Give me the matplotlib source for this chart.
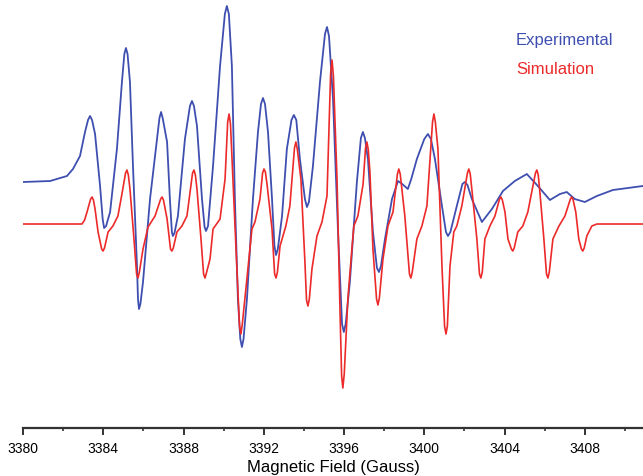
import matplotlib
matplotlib.use("Agg")
import matplotlib.pyplot as plt
from matplotlib.ticker import MultipleLocator

plt.rcParams['font.family'] = ['Liberation Sans', 'DejaVu Sans']

# field values (Gauss) and signal (a.u.)
exp_field = [3380.00, 3381.35, 3382.19, 3382.49, 3382.84, 3383.09, 3383.24, 3383.34,
             3383.44, 3383.59, 3383.84, 3383.97, 3384.04, 3384.14, 3384.34, 3384.68,
             3384.93, 3385.05, 3385.13, 3385.21, 3385.33, 3385.48, 3385.68, 3385.73,
             3385.78, 3385.85, 3385.98, 3386.33, 3386.68, 3386.80, 3386.88, 3386.96,
             3387.18, 3387.32, 3387.42, 3387.47, 3387.55, 3387.72, 3388.07, 3388.32,
             3388.42, 3388.52, 3388.67, 3388.92, 3389.05, 3389.12, 3389.22, 3389.47,
             3389.82, 3390.06, 3390.16, 3390.26, 3390.41, 3390.56, 3390.71, 3390.83,
             3390.91, 3390.99, 3391.16, 3391.46, 3391.71, 3391.86, 3391.96, 3392.06,
             3392.21, 3392.41, 3392.53, 3392.61, 3392.70, 3392.91, 3393.15, 3393.38,
             3393.50, 3393.62, 3393.80, 3394.05, 3394.15, 3394.25, 3394.45, 3394.80,
             3395.05, 3395.15, 3395.25, 3395.45, 3395.70, 3395.90, 3395.99, 3396.08,
             3396.29, 3396.64, 3396.84, 3396.94, 3397.04, 3397.19, 3397.44, 3397.64,
             3397.74, 3397.84, 3398.04, 3398.39, 3398.69, 3398.90, 3399.18, 3399.35,
             3399.63, 3400.00, 3400.18, 3400.33, 3400.53, 3400.88, 3401.08, 3401.18,
             3401.30, 3401.62, 3401.90, 3402.02, 3402.15, 3402.37, 3402.87, 3403.37,
             3403.92, 3404.51, 3405.11, 3405.66, 3406.26, 3406.76, 3407.10, 3407.50,
             3408.00, 3408.60, 3409.40, 3410.89]
exp_signal = [42, 43, 48, 55, 68, 92, 104, 108,
              104, 90, 38, 5, -4, -2, 12, 75,
              142, 170, 176, 170, 142, 58, -42, -75,
              -85, -80, -58, 25, 85, 106, 112, 106,
              82, 25, -8, -12, -9, 8, 85, 118,
              123, 118, 98, 25, -3, -7, -2, 58,
              158, 210, 218, 210, 158, 25, -75, -115,
              -123, -115, -75, 25, 92, 120, 126, 120,
              92, 25, -22, -31, -25, 8, 75, 104,
              109, 104, 65, 25, 17, 22, 58, 142,
              190, 197, 188, 125, -8, -100, -108, -100,
              -58, 42, 86, 92, 86, 65, -8, -44,
              -48, -42, -15, 25, 43, 40, 35, 45,
              65, 85, 90, 85, 65, 18, -8, -12,
              -8, 18, 40, 42, 39, 25, 2, 15,
              33, 43, 50, 38, 24, 30, 32, 25,
              22, 28, 34, 38]

sim_field = [3380.00, 3382.94, 3383.07, 3383.19, 3383.37, 3383.44, 3383.51, 3383.59,
             3383.74, 3383.92, 3383.99, 3384.06, 3384.24, 3384.48, 3384.73, 3384.93,
             3385.11, 3385.18, 3385.25, 3385.33, 3385.53, 3385.66, 3385.73, 3385.80,
             3385.98, 3386.23, 3386.58, 3386.86, 3386.93, 3387.00, 3387.18, 3387.35,
             3387.42, 3387.49, 3387.67, 3387.92, 3388.17, 3388.45, 3388.52, 3388.59,
             3388.67, 3388.87, 3389.00, 3389.07, 3389.14, 3389.32, 3389.47, 3389.82,
             3390.07, 3390.20, 3390.27, 3390.34, 3390.46, 3390.66, 3390.79, 3390.86,
             3390.93, 3391.16, 3391.41, 3391.56, 3391.81, 3391.94, 3392.01, 3392.08,
             3392.16, 3392.41, 3392.54, 3392.61, 3392.68, 3392.81, 3393.10, 3393.30,
             3393.53, 3393.60, 3393.67, 3393.85, 3394.05, 3394.13, 3394.20, 3394.27,
             3394.40, 3394.65, 3394.90, 3395.15, 3395.33, 3395.40, 3395.47, 3395.65,
             3395.80, 3395.88, 3395.94, 3396.01, 3396.19, 3396.39, 3396.49, 3396.69,
             3396.95, 3397.07, 3397.14, 3397.21, 3397.29, 3397.44, 3397.62, 3397.69,
             3397.76, 3397.94, 3398.19, 3398.44, 3398.66, 3398.73, 3398.80, 3399.03,
             3399.26, 3399.33, 3399.40, 3399.63, 3399.88, 3400.13, 3400.41, 3400.48,
             3400.55, 3400.68, 3400.88, 3401.01, 3401.08, 3401.15, 3401.28, 3401.47,
             3401.62, 3401.87, 3402.15, 3402.22, 3402.29, 3402.42, 3402.62, 3402.75,
             3402.82, 3402.89, 3403.02, 3403.27, 3403.52, 3403.75, 3403.82, 3403.89,
             3404.02, 3404.17, 3404.34, 3404.41, 3404.48, 3404.66, 3404.91, 3405.16,
             3405.54, 3405.61, 3405.68, 3405.76, 3405.96, 3406.09, 3406.16, 3406.23,
             3406.41, 3406.71, 3407.01, 3407.28, 3407.35, 3407.42, 3407.55, 3407.70,
             3407.83, 3407.90, 3407.97, 3408.10, 3408.35, 3408.60, 3410.89]
sim_signal = [0, 0, 4, 12, 25, 27, 24, 15,
              -8, -25, -27, -24, -8, -2, 8, 30,
              51, 54, 49, 35, -15, -50, -54, -48,
              -25, -3, 8, 25, 27, 24, 5, -25,
              -27, -24, -8, -2, 8, 51, 54, 49,
              35, -15, -50, -54, -49, -35, -5, 5,
              45, 102, 110, 100, 45, -45, -102, -110,
              -100, -55, -5, 2, 25, 51, 55, 52,
              40, -5, -50, -54, -48, -22, -2, 18,
              76, 82, 75, 45, -38, -76, -82, -75,
              -45, -12, 2, 28, 150, 164, 148, 45,
              -88, -152, -164, -150, -75, -25, -2, 8,
              40, 76, 82, 74, 52, -25, -75, -81,
              -74, -35, -2, 12, 50, 55, 50, 8,
              -50, -54, -48, -15, -2, 18, 102, 110,
              102, 75, -42, -102, -110, -102, -42, -8,
              -2, 18, 51, 55, 50, 25, -15, -50,
              -54, -48, -15, -2, 8, 25, 27, 24,
              12, -15, -25, -27, -24, -8, -2, 12,
              51, 54, 49, 32, -15, -50, -54, -48,
              -15, -2, 8, 25, 27, 24, 12, -15,
              -25, -27, -24, -12, -2, 0, 0]

ticks = [3380, 3384, 3388, 3392, 3396, 3400, 3404, 3408]
blue = '#3f4fb0'
red = '#ec2a2a'

fig = plt.figure(figsize=(6.43, 4.77), dpi=100)
ax = fig.add_axes([0.0358, 0.1006, 0.9642, 0.8994])

ax.plot(exp_field, exp_signal, color=blue, lw=1.3)
ax.plot(sim_field, sim_signal, color=red, lw=1.2)

ax.set_xlim(3380, 3410.9)
ax.set_ylim(-204, 225)
for s in ['left', 'right', 'top']:
    ax.spines[s].set_visible(False)
ax.spines['bottom'].set_linewidth(1.6)
ax.spines['bottom'].set_color('#333333')
ax.set_yticks([])
ax.set_xticks(ticks)
ax.xaxis.set_minor_locator(MultipleLocator(2))
ax.tick_params(axis='x', which='major', length=5, width=1.4, color='#333333',
               labelsize=10, pad=4)
ax.tick_params(axis='x', which='minor', length=2.5, width=1.2, color='#333333')
ax.set_xlabel('Magnetic Field (Gauss)', fontsize=12, labelpad=3)

fig.text(516 / 643, 1 - 41 / 477, 'Experimental', color=blue, fontsize=12, va='center')
fig.text(516 / 643, 1 - 70 / 477, 'Simulation', color=red, fontsize=12, va='center')

fig.savefig('out.png', dpi=100)
